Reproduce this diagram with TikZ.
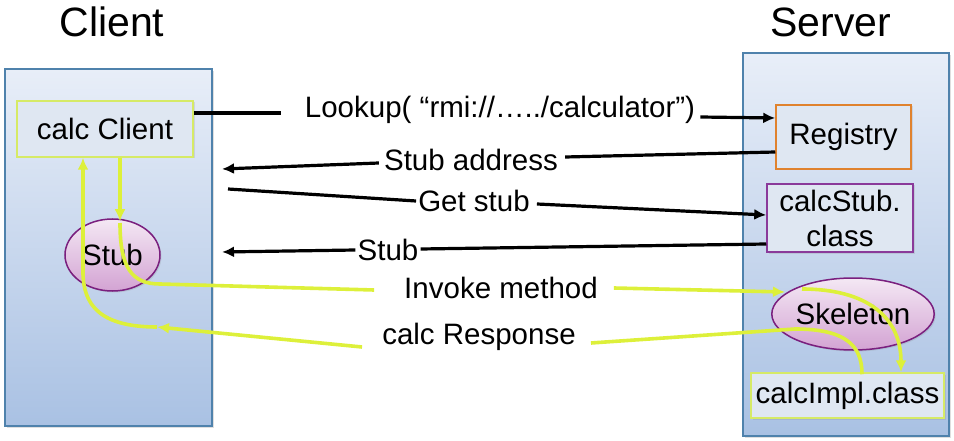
\documentclass[tikz,border=0pt]{standalone}
\usepackage{fontspec}
\setmainfont{Liberation Sans}
\usetikzlibrary{arrows.meta,shadows,calc,shapes.geometric}
\definecolor{panelTop}{HTML}{E8EEF8}
\definecolor{panelBot}{HTML}{A9C1E3}
\definecolor{panelLine}{HTML}{4F82AC}
\definecolor{boxFill}{HTML}{DFE7F2}
\definecolor{yg}{HTML}{DDF03A}
\definecolor{ygBorder}{HTML}{D6EA66}
\definecolor{orangeB}{HTML}{E0822E}
\definecolor{purpleB}{HTML}{8A3A9A}
\definecolor{ellTop}{HTML}{F4E8F4}
\definecolor{ellBot}{HTML}{D3A3D3}
\definecolor{ellLine}{HTML}{7A1F7E}
\tikzset{
  panel/.style={draw=panelLine, line width=1.4pt, top color=panelTop, bottom color=panelBot,
    drop shadow={opacity=0.25, shadow xshift=2pt, shadow yshift=-2pt}},
  txt/.style={font=\fontsize{29.5}{35}\selectfont, text=black},
  title/.style={font=\fontsize{41}{45}\selectfont, text=black},
  rectbox/.style={txt, rectangle, inner sep=0pt, align=center, line width=1.5pt,
    drop shadow={opacity=0.2, shadow xshift=1.5pt, shadow yshift=-1.5pt}},
  ellnode/.style={txt, ellipse, inner sep=0pt, draw=ellLine, line width=1.5pt,
    top color=ellTop, bottom color=ellBot,
    drop shadow={opacity=0.2, shadow xshift=1.5pt, shadow yshift=-1.5pt}},
  lbl/.style={txt, inner sep=0pt, fill=white},
  blk/.style={draw=black, line width=3.2pt},
  blkarrow/.style={blk, -{Latex[length=12pt,width=11pt]}},
  ygl/.style={draw=yg, line width=3.6pt},
  ygarrow/.style={ygl, -{Latex[length=12pt,width=11pt]}},
}
\begin{document}
\begin{tikzpicture}[x=1pt,y=-1pt]
\useasboundingbox (0,0) rectangle (954,441);
% titles
\node[title] (tClient) at (112,22) {Client};
\node[title] (tServer) at (831,22) {Server};
% panels
\path[panel] (5,69) rectangle (212,426);
\path[panel] (743,53) rectangle (949,436);
% nodes
\node[rectbox, draw=ygBorder, fill=boxFill, minimum width=176pt, minimum height=56pt] (calcClient) at (105,129) {calc Client};
\node[ellnode, minimum width=95pt, minimum height=72pt] (stub) at (112.5,255) {Stub};
\node[rectbox, draw=orangeB, fill=boxFill, minimum width=135pt, minimum height=64pt] (registry) at (843.5,137) {Registry};
\node[rectbox, draw=purpleB, fill=boxFill, minimum width=146pt, minimum height=68pt] (calcStub) at (840,218) {calcStub.\\class};
\node[ellnode, minimum width=126pt, minimum height=72pt] (skeleton) at (853,314) {Skeleton};
\node[rectbox, draw=ygBorder, fill=boxFill, minimum width=193pt, minimum height=45pt] (calcImpl) at (847.5,395.5) {calcImpl.class};
% labels
\node[lbl] (lbLookup) at (500,110) {Lookup( “rmi://…../calculator”)};
\node[lbl] (lbStubAddr) at (471,160) {Stub address};
\node[lbl] (lbGetStub) at (474,201) {Get stub};
\node[lbl] (lbStub) at (388,250) {Stub};
\node[lbl] (lbInvoke) at (501,288) {Invoke method};
\node[lbl] (lbResp) at (479,337) {calc Response};
% free ends
\coordinate (saTip) at (222,169);
\coordinate (gsStart) at (228,189);
\coordinate (stTip) at (222,252);
\coordinate (invStart) at (120,223);
\coordinate (invMid) at (785,292);
\coordinate (skStart) at (802,289);
\coordinate (respMid) at (157,327);
% black connectors
\draw[blk] ([yshift=16pt]calcClient.east) -- ([xshift=-24pt,yshift=-3pt]lbLookup.west);
\draw[blkarrow] ([xshift=5pt,yshift=-7pt]lbLookup.east) -- ([yshift=19pt]registry.west);
\draw[blk] ([yshift=-15pt]registry.west) -- ([xshift=7pt,yshift=3pt]lbStubAddr.east);
\draw[blkarrow] ([xshift=-5pt,yshift=-3pt]lbStubAddr.west) -- (saTip);
\draw[blk] (gsStart) -- ([xshift=-2pt]lbGetStub.west);
\draw[blkarrow] ([xshift=7pt,yshift=-3pt]lbGetStub.east) -- ([yshift=3pt]calcStub.west);
\draw[blk] ([yshift=-26pt]calcStub.west) -- ([xshift=2pt,yshift=1pt]lbStub.east);
\draw[blkarrow] ([xshift=-2pt]lbStub.west) -- (stTip);
% yellow-green connectors
\draw[ygarrow] ([xshift=15pt]calcClient.south) -- ([xshift=7.5pt,yshift=-3pt]stub.north);
\draw[ygl] (invStart) .. controls (120,268) and (132,284) .. (160,284) -- ([xshift=-30pt,yshift=-2pt]lbInvoke.west);
\draw[ygarrow] ([xshift=16pt,yshift=0pt]lbInvoke.east) -- (invMid);
\draw[ygarrow] (skStart) .. controls (868,289) and (901,318) .. ([xshift=53.5pt]calcImpl.north);
\draw[ygl] ([xshift=14.5pt,yshift=-2pt]calcImpl.north) .. controls (862,345) and (845,329) .. (795,329) -- ([xshift=15pt,yshift=-6pt]lbResp.east);
\draw[ygarrow] ([xshift=-20pt,yshift=-10pt]lbResp.west) -- (respMid);
\draw[ygarrow] (respMid) .. controls (100,327) and (83,305) .. (83,272) -- ([xshift=-22pt]calcClient.south);
\end{tikzpicture}
\end{document}
